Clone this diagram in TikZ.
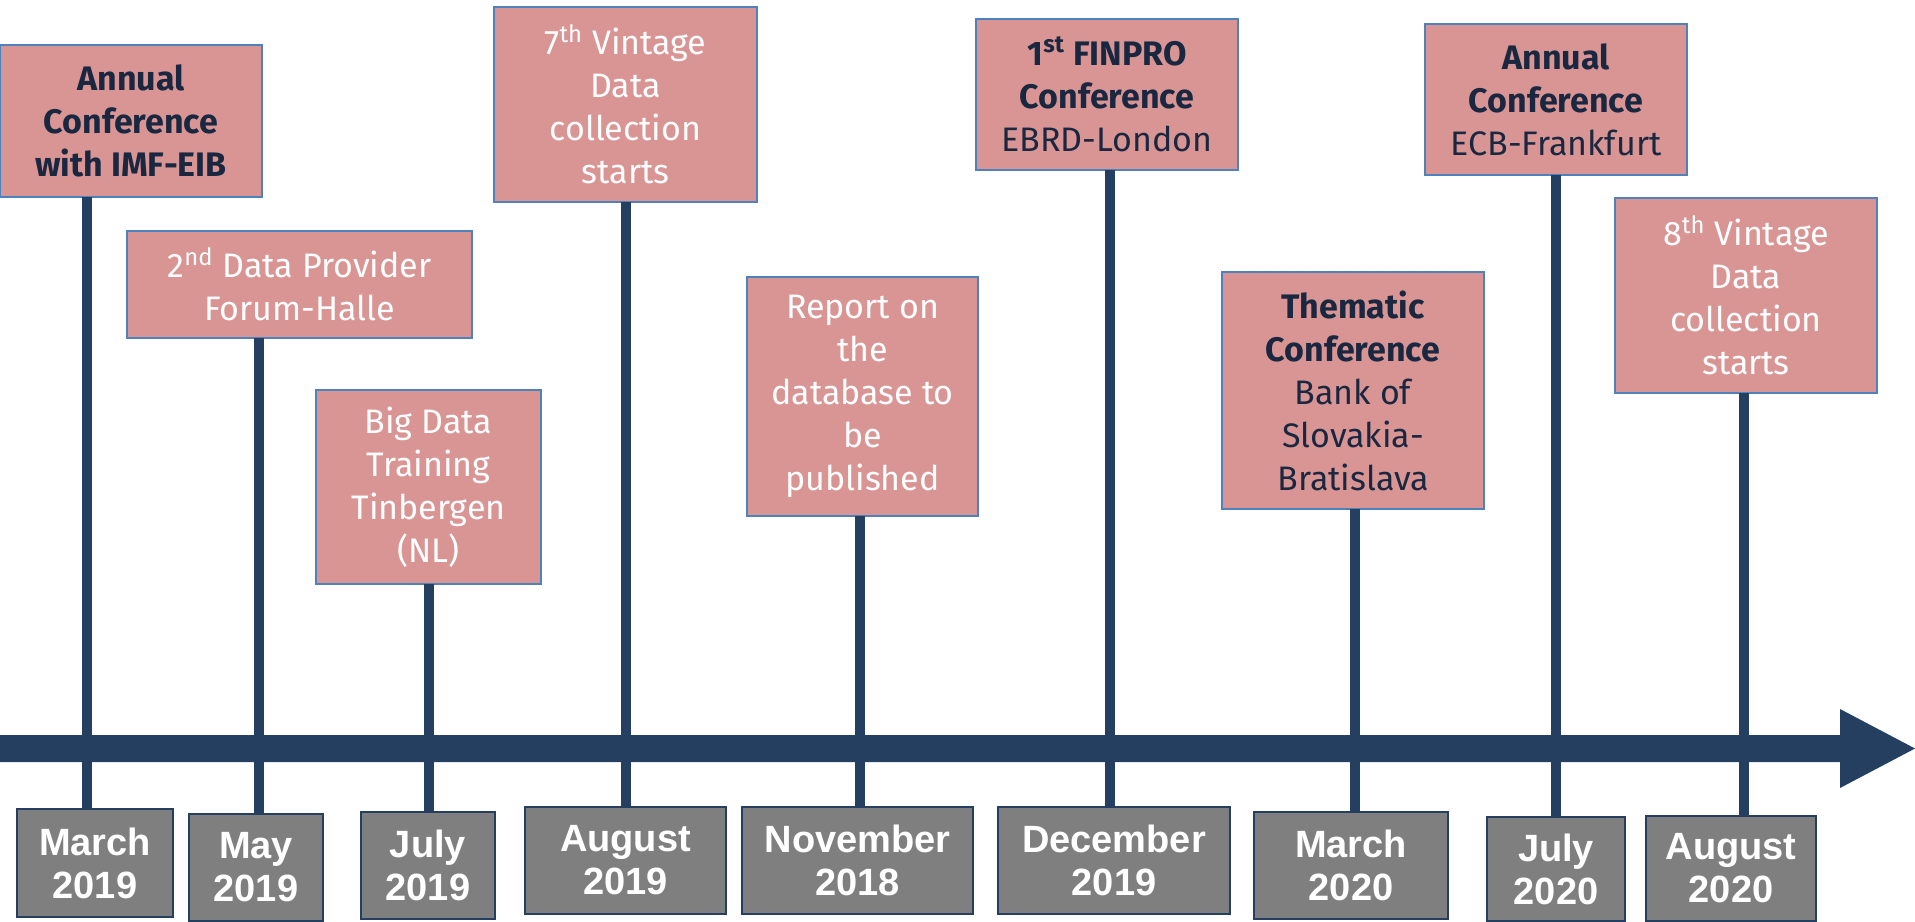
\documentclass[tikz,border=0pt]{standalone}
\usepackage{fontspec}
\setmainfont{Fira Sans}
\newfontfamily\datefont{Liberation Sans}
\newcommand*{\eventsize}{\fontsize{17}{21.5}\selectfont}
\newcommand*{\datesize}{\fontsize{19}{21.5}\selectfont}
\definecolor{P}{HTML}{D99594}
\definecolor{L}{HTML}{4F81BD}
\definecolor{N}{HTML}{243F60}
\definecolor{G}{HTML}{7F7F7F}
\definecolor{D}{HTML}{1A2740}
\usepackage{tikz}
\tikzstyle{base}=[x=0.5pt, y=-0.5pt, inner sep=0pt, outer sep=0pt]
\tikzstyle{event}=[draw=L, line width=1pt, fill=P, text=white, align=center, font=\eventsize]
\tikzstyle{dark}=[text=D]
\tikzstyle{date}=[draw=N, line width=1pt, fill=G, text=white, align=center, font=\datefont\bfseries\datesize]
\tikzstyle{tick}=[N, line width=5pt]

\begin{document}
\begin{tikzpicture}[base]
    \path [use as bounding box] (0,0) rectangle (1915,921);
    % time axis
    \fill [N] (0,735) -- (1840,735) -- (1840,709) -- (1915,748.5) -- (1840,788) -- (1840,762) -- (0,762) -- cycle;
    % events
    \node [event, dark, font=\eventsize\bfseries, minimum width=131pt, minimum height=76pt] (b1) at (131,121) {Annual\\Conference\\with IMF-EIB};
    \node [event, minimum width=172.5pt, minimum height=53.5pt] (b2) at (299.5,284.5) {2\textsuperscript{nd} Data Provider\\Forum-Halle};
    \node [event, minimum width=112.5pt, minimum height=97pt] (b3) at (428.5,487) {Big Data\\Training\\Tinbergen\\(NL)};
    \node [event, minimum width=131.5pt, minimum height=97.5pt] (b4) at (625.5,104.5) {7\textsuperscript{th} Vintage\\Data\\collection\\starts};
    \node [event, minimum width=115.5pt, minimum height=119.5pt] (b5) at (862.5,396.5) {Report on\\the\\database to\\be\\published};
    \node [event, dark, minimum width=131pt, minimum height=75.5pt] (b6) at (1107,94.5) {\textbf{1\textsuperscript{st} FINPRO}\\\textbf{Conference}\\EBRD-London};
    \node [event, dark, minimum width=131pt, minimum height=118.5pt] (b7) at (1353,390.5) {\textbf{Thematic}\\\textbf{Conference}\\Bank of\\Slovakia-\\Bratislava};
    \node [event, dark, minimum width=131pt, minimum height=75.5pt] (b8) at (1556,99.5) {\textbf{Annual}\\\textbf{Conference}\\ECB-Frankfurt};
    \node [event, minimum width=131pt, minimum height=97.5pt] (b9) at (1746,295.5) {8\textsuperscript{th} Vintage\\Data\\collection\\starts};
    % dates
    \node [date, minimum width=78pt, minimum height=54pt] (d1) at (95,863) {March\\2019};
    \node [date, minimum width=67pt, minimum height=53.5pt] (d2) at (256,867.5) {May\\2019};
    \node [date, minimum width=67pt, minimum height=53.5pt] (d3) at (428,865.5) {July\\2019};
    \node [date, minimum width=100.5pt, minimum height=53.5pt] (d4) at (625.5,860.5) {August\\2019};
    \node [date, minimum width=115.5pt, minimum height=53.5pt] (d5) at (857.5,860.5) {November\\2018};
    \node [date, minimum width=116pt, minimum height=53.5pt] (d6) at (1114,860.5) {December\\2019};
    \node [date, minimum width=97pt, minimum height=53.5pt] (d7) at (1351,865.5) {March\\2020};
    \node [date, minimum width=69pt, minimum height=52pt] (d8) at (1556,869) {July\\2020};
    \node [date, minimum width=85pt, minimum height=52.5pt] (d9) at (1731,868.5) {August\\2020};
    % ticks
    \coordinate (t1) at (87,0);
    \coordinate (t2) at (259,0);
    \coordinate (t3) at (429,0);
    \coordinate (t4) at (626,0);
    \coordinate (t5) at (860,0);
    \coordinate (t6) at (1110,0);
    \coordinate (t7) at (1355,0);
    \coordinate (t8) at (1556,0);
    \coordinate (t9) at (1744,0);
    \draw [tick] (t1 |- b1.south) -- (t1 |- d1.north);
    \draw [tick] (t2 |- b2.south) -- (t2 |- d2.north);
    \draw [tick] (t3 |- b3.south) -- (t3 |- d3.north);
    \draw [tick] (t4 |- b4.south) -- (t4 |- d4.north);
    \draw [tick] (t5 |- b5.south) -- (t5 |- d5.north);
    \draw [tick] (t6 |- b6.south) -- (t6 |- d6.north);
    \draw [tick] (t7 |- b7.south) -- (t7 |- d7.north);
    \draw [tick] (t8 |- b8.south) -- (t8 |- d8.north);
    \draw [tick] (t9 |- b9.south) -- (t9 |- d9.north);
\end{tikzpicture}
\end{document}
